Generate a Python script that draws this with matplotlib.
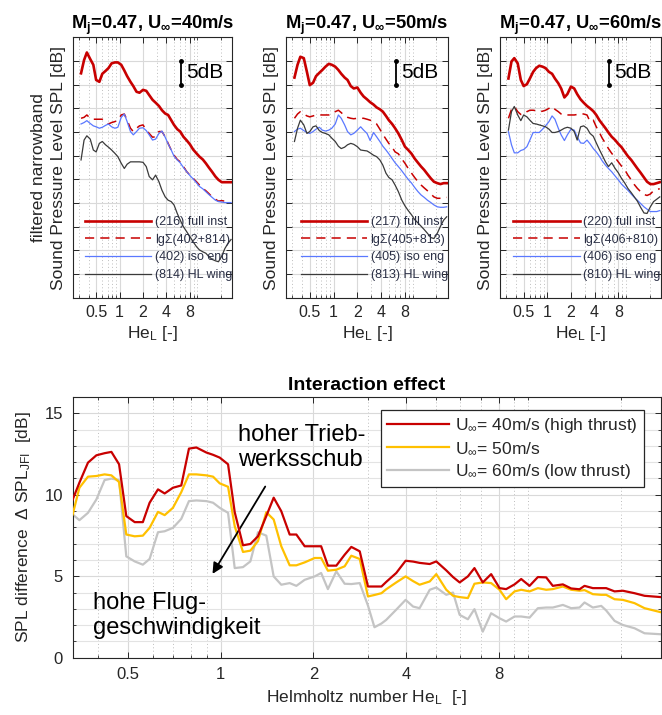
import numpy as np
import matplotlib
matplotlib.use('Agg')
import matplotlib.pyplot as plt
from matplotlib.ticker import FixedLocator, FixedFormatter, NullFormatter
from matplotlib.transforms import blended_transform_factory

plt.rcParams['font.family'] = ['Liberation Sans', 'DejaVu Sans']
plt.rcParams['mathtext.fontset'] = 'custom'
plt.rcParams['mathtext.rm'] = 'Liberation Sans'
plt.rcParams['mathtext.it'] = 'Liberation Sans:italic'
plt.rcParams['mathtext.bf'] = 'Liberation Sans:bold'

# ---------------- data: top panels (filtered narrowband SPL, dB, arbitrary offset) ----------------
he_top = [0.32, 0.35, 0.38, 0.42, 0.46, 0.5, 0.55, 0.6, 0.66, 0.72, 0.79, 0.87, 0.95, 1.05, 1.15,
          1.25, 1.38, 1.5, 1.65, 1.8, 2.0, 2.2, 2.4, 2.65, 2.9, 3.2, 3.5, 3.85, 4.2, 4.6,
          5.0, 5.5, 6.0, 6.6, 7.3, 8.0, 8.8, 9.7, 10.6, 11.7, 12.8, 14.0, 15.4, 17.0, 18.6,
          20.5, 22.5, 24.7, 27.0]

spl40_full = [47.4, 50.2, 51.8, 50.4, 49.2, 46.0, 45.6, 47.3, 47.9, 48.5, 49.5, 49.7, 49.7, 49.2, 48.0,
              46.8, 45.6, 44.7, 43.5, 43.3, 43.9, 43.7, 42.8, 41.8, 41.2, 40.5, 39.6, 38.9, 38.6, 37.5,
              36.5, 35.6, 35.1, 34.0, 33.2, 32.4, 31.3, 30.5, 29.8, 29.2, 28.4, 27.5, 26.6, 25.6, 24.9,
              24.4, 24.4, 24.4, 24.4]
spl40_sum = [37.9, 38.1, 38.6, 37.9, 37.7, 37.7, 37.7, 37.7, 37.2, 36.7, 37.0, 37.2, 37.5, 38.6, 38.8,
             37.5, 35.8, 35.1, 35.8, 36.3, 36.5, 35.4, 34.7, 33.9, 34.0, 35.1, 35.1, 34.0, 32.6, 31.2,
             30.1, 29.2, 28.7, 27.7, 26.6, 25.9, 25.2, 24.5, 23.8, 23.1, 22.6, 22.0, 21.3, 20.8, 20.4,
             20.5, 20.4, 20.4, np.nan]
spl40_iso = [36.7, 37.0, 37.4, 36.8, 36.3, 36.1, 35.8, 36.0, 36.4, 36.7, 36.1, 35.8, 36.0, 38.1, 38.8,
             37.2, 35.1, 34.4, 35.1, 35.8, 35.9, 35.3, 34.4, 33.3, 33.5, 34.7, 35.2, 33.9, 32.5, 31.2,
             29.9, 29.1, 28.5, 27.5, 26.6, 25.8, 25.1, 24.3, 23.5, 23.0, 22.4, 21.8, 21.2, 20.6, 20.3,
             20.2, 20.1, 20.1, 20.1]
spl40_wing = [29.1, 33.3, 34.2, 33.5, 31.2, 30.8, 32.6, 33.0, 32.3, 31.8, 31.2, 30.5, 29.8, 28.4, 27.3,
              28.2, 28.7, 28.7, 28.7, 28.7, 28.6, 27.7, 25.6, 24.9, 25.9, 24.5, 22.7, 21.3, 20.6, 20.3,
              19.6, 17.8, 16.4, 15.0, 13.9, 12.9, 11.8, 10.8, 10.1, 9.7, 9.4, 8.7, 8.1, 7.8, 7.6,
              8.8, 10.4, 11.5, 12.3]

spl50_full = [46.5, 49.2, 50.9, 50.6, 47.7, 44.9, 45.4, 46.8, 47.5, 48.1, 48.8, 49.4, 49.2, 48.8, 48.1,
              47.3, 46.5, 46.0, 44.7, 44.2, 44.4, 43.3, 42.5, 41.9, 41.3, 40.8, 40.2, 39.8, 39.3, 38.4,
              37.5, 36.7, 35.8, 34.7, 33.3, 31.9, 31.2, 30.4, 29.4, 28.5, 27.7, 27.0, 26.1, 25.2, 24.5,
              24.2, 24.0, 24.2, 24.2]
spl50_sum = [37.9, 38.8, 39.3, 38.8, 38.4, 38.2, 38.4, 38.6, 38.6, 38.6, 38.6, 38.6, 38.8, 39.3, 39.6,
             39.1, 38.4, 38.1, 37.9, 37.8, 37.9, 37.9, 37.9, 37.7, 37.5, 37.2, 36.7, 35.6, 34.5, 33.5,
             32.6, 31.8, 30.8, 30.4, 29.3, 28.4, 27.3, 26.3, 25.4, 24.5, 23.8, 23.2, 22.6, 21.9, 21.3,
             21.0, 21.0, 21.0, 21.2]
spl50_iso = [35.1, 35.6, 35.8, 35.3, 34.9, 34.7, 35.1, 35.6, 36.0, 35.4, 35.2, 35.4, 35.8, 36.7, 38.6,
             37.9, 36.5, 35.1, 34.4, 34.7, 35.4, 36.1, 35.4, 34.7, 33.2, 34.9, 34.0, 33.0, 32.0, 31.2,
             30.4, 29.4, 28.5, 27.7, 26.8, 25.9, 25.0, 24.2, 23.3, 22.4, 21.7, 21.2, 20.6, 20.1, 19.6,
             19.2, 19.1, 19.1, 19.2]
spl50_wing = [33.0, 35.8, 37.5, 36.5, 34.7, 35.1, 36.1, 36.3, 35.3, 34.9, 34.7, 34.4, 33.7, 33.0, 32.0,
              31.5, 31.8, 32.3, 32.6, 32.4, 31.9, 31.2, 31.1, 31.0, 30.6, 30.1, 29.8, 29.1, 28.0, 26.3,
              25.4, 24.9, 23.8, 22.4, 20.6, 19.4, 18.4, 17.5, 16.5, 15.8, 15.1, 14.4, 13.6, 12.7, 12.5,
              13.6, 15.1, 16.4, 17.1]

spl60_full = [46.3, 49.9, 50.6, 49.5, 46.0, 44.7, 45.1, 46.3, 47.7, 48.5, 49.0, 48.8, 48.5, 47.7, 47.3,
              46.3, 45.3, 44.2, 42.3, 43.0, 44.6, 44.2, 43.0, 41.9, 41.2, 40.5, 40.0, 39.4, 38.6, 37.5,
              36.7, 35.8, 34.9, 34.0, 33.3, 32.5, 31.8, 30.8, 29.9, 29.1, 28.2, 27.3, 26.4, 25.4, 24.5,
              24.0, 24.0, 24.2, 24.4]
spl60_sum = [37.9, 39.8, 40.4, 39.3, 38.7, 38.7, 39.3, 39.6, 39.6, 39.5, 39.3, 39.4, 39.6, 40.0, 40.4,
             39.8, 39.3, 38.8, 38.5, 38.6, 38.6, 38.6, 38.7, 38.9, 38.8, 38.6, 37.2, 37.5, 36.1, 34.9,
             33.7, 32.6, 31.5, 30.5, 29.6, 28.7, 27.8, 27.0, 25.9, 24.9, 23.9, 23.1, 22.4, 21.8, 21.6,
             21.9, 22.6, 22.9, 23.0]
spl60_iso = [35.1, 32.3, 30.6, 30.6, 31.1, 31.3, 31.9, 33.3, 34.9, 34.9, 34.9, 35.6, 36.3, 37.2, 38.4,
             37.7, 35.8, 34.4, 33.2, 34.4, 35.6, 35.4, 34.0, 32.7, 32.6, 33.3, 32.5, 31.5, 30.8, 29.9,
             28.9, 28.0, 27.3, 26.6, 25.7, 24.9, 24.0, 23.3, 22.7, 21.9, 21.2, 20.6, 19.9, 19.2, 18.7,
             18.2, 18.2, 18.2, 18.4]
spl60_wing = [35.4, 39.3, 40.4, 38.6, 37.4, 38.6, 38.2, 37.5, 36.8, 36.7, 36.5, 36.3, 36.1, 35.6, 34.9,
              34.9, 35.1, 35.4, 35.8, 36.0, 35.8, 35.1, 33.3, 36.1, 36.3, 35.8, 34.7, 34.1, 32.7, 31.3,
              30.1, 28.7, 27.7, 28.5, 27.3, 26.4, 25.2, 24.2, 23.1, 22.2, 21.3, 20.4, 19.1, 17.9, 17.8,
              19.2, 20.3, 20.8, 21.3]

top_titles = [r'$\mathbf{M_j}$=0.47, $\mathbf{U_{\infty}}$=40m/s',
              r'$\mathbf{M_j}$=0.47, $\mathbf{U_{\infty}}$=50m/s',
              r'$\mathbf{M_j}$=0.47, $\mathbf{U_{\infty}}$=60m/s']
top_labels = [['(216) full inst', 'lgΣ(402+814)', '(402) iso eng', '(814) HL wing'],
              ['(217) full inst', 'lgΣ(405+813)', '(405) iso eng', '(813) HL wing'],
              ['(220) full inst', 'lgΣ(406+810)', '(406) iso eng', '(810) HL wing']]

# ---------------- data: bottom panel (interaction effect) ----------------
he_bot = [0.33, 0.347, 0.37, 0.394, 0.419, 0.441, 0.467, 0.493, 0.525, 0.558, 0.587, 0.625, 0.657,
          0.699, 0.744, 0.788, 0.833, 0.898, 0.944, 0.992, 1.056, 1.11, 1.181, 1.248, 1.321, 1.406,
          1.486, 1.573, 1.675, 1.761, 1.874, 2.02, 2.12, 2.23, 2.375, 2.528, 2.657, 2.83, 3.01, 3.16,
          3.33, 3.45, 3.72, 3.99, 4.22, 4.43, 4.78, 5.02, 5.41, 5.69, 5.98, 6.36, 6.68, 7.11, 7.57,
          8.06, 8.47, 9.02, 9.48, 10.09, 10.74, 11.43, 12.01, 12.95, 13.78, 14.67, 15.23, 16.21,
          17.26, 17.91, 19.07, 20.29, 22.14, 23.87, 27.0]
dspl_40 = [9.71, 10.74, 11.97, 12.42, 12.55, 12.63, 11.87, 8.69, 8.32, 8.32, 9.51, 10.33, 10.08,
           10.43, 10.57, 12.83, 12.90, 12.59, 12.45, 12.28, 11.87, 8.93, 6.90, 6.98, 7.45, 8.69,
           9.82, 8.99, 7.56, 7.56, 6.84, 6.84, 6.84, 5.65, 5.65, 6.32, 6.80, 6.53, 4.37, 4.37,
           4.37, 4.65, 5.20, 5.95, 5.90, 5.82, 5.75, 5.91, 5.36, 4.95, 4.62, 4.99, 5.50, 4.62, 5.13,
           4.27, 4.21, 4.50, 4.83, 4.41, 4.95, 4.93, 4.41, 4.50, 4.25, 4.20, 4.41, 4.27,
           4.27, 4.27, 4.07, 4.11, 3.96, 3.80, 3.72]
dspl_50 = [8.79, 10.43, 11.11, 11.15, 11.25, 11.19, 10.78, 7.56, 7.45, 7.49, 7.97, 8.95, 8.75,
           9.20, 10.16, 11.25, 11.25, 11.19, 11.11, 10.70, 10.49, 8.07, 6.49, 6.57, 7.15, 8.93,
           8.48, 6.84, 5.67, 5.67, 5.85, 6.12, 6.12, 5.34, 5.40, 5.61, 6.26, 6.06, 3.76, 3.85,
           3.96, 4.20, 4.62, 4.99, 4.70, 4.48, 4.68, 5.13, 4.17, 3.80, 3.72, 3.66, 4.54, 4.62, 4.58,
           4.17, 3.59, 4.07, 4.17, 4.07, 4.27, 4.17, 4.21, 4.37, 4.17, 4.11, 4.15, 3.90,
           3.86, 3.86, 3.59, 3.55, 3.35, 3.04, 2.79]
dspl_60 = [8.79, 8.44, 8.89, 9.71, 10.90, 10.99, 10.90, 6.22, 5.91, 5.71, 6.06, 7.70, 7.76,
           7.97, 8.52, 9.61, 9.65, 9.61, 9.51, 9.20, 8.89, 5.50, 5.56, 5.91, 7.70, 7.49,
           4.99, 4.48, 4.58, 4.41, 4.78, 4.99, 5.20, 4.21, 5.30, 4.54, 4.52, 4.58, 3.20, 1.87,
           2.10, 2.32, 2.95, 3.55, 3.14, 3.04, 4.17, 4.31, 3.86, 4.00, 2.63, 2.36, 2.98, 1.60, 2.73,
           2.42, 2.22, 2.53, 2.53, 2.46, 3.04, 3.08, 3.08, 3.24, 3.04, 3.08, 3.39, 3.08,
           3.18, 2.90, 2.26, 2.01, 1.81, 1.50, 1.44]
bot_labels = [r'U$_{\infty}$= 40m/s (high thrust)', r'U$_{\infty}$= 50m/s', r'U$_{\infty}$= 60m/s (low thrust)']

# ---------------- styling ----------------
DARK = '#262626'
RED = '#c80000'
BLUE = '#5a78ff'
BLACK = '#3a3a3a'
GOLD = '#ffc000'
GREY = '#c4c4c4'
XT_MAJ = [0.5, 1, 2, 4, 8]
XT_LAB = ['0.5', '1', '2', '4', '8']
XT_MIN = [0.3, 0.4, 0.6, 0.7, 0.8, 0.9, 3, 5, 6, 7, 9, 10, 20]


def style_axis(ax, xlim):
    ax.set_xscale('log')
    ax.set_xlim(*xlim)
    ax.xaxis.set_major_locator(FixedLocator(XT_MAJ))
    ax.xaxis.set_major_formatter(FixedFormatter(XT_LAB))
    ax.xaxis.set_minor_locator(FixedLocator(XT_MIN))
    ax.xaxis.set_minor_formatter(NullFormatter())
    ax.set_axisbelow(True)
    ax.grid(which='major', axis='both', color='#d9d9d9', lw=0.8, ls='-')
    ax.grid(which='minor', axis='x', color='#bdbdbd', lw=0.7, ls=(0, (1, 2.5)))
    ax.tick_params(which='both', direction='in', top=True, right=True, colors=DARK)
    ax.tick_params(which='major', length=4, width=0.7)
    ax.tick_params(which='minor', length=2, width=0.6)
    for s in ax.spines.values():
        s.set_color(DARK)
        s.set_linewidth(0.8)


fig = plt.figure(figsize=(6.62, 7.15), dpi=100)

top_sets = [(spl40_full, spl40_sum, spl40_iso, spl40_wing),
            (spl50_full, spl50_sum, spl50_iso, spl50_wing),
            (spl60_full, spl60_sum, spl60_iso, spl60_wing)]
top_lefts = [0.1098, 0.432, 0.7553]
top_widths = [0.2411, 0.2447, 0.2432]

for i in range(3):
    ax = fig.add_axes([top_lefts[i], 0.5836, top_widths[i], 0.3642])
    style_axis(ax, (0.25, 28))
    ax.set_ylim(0, 55)
    ax.set_yticks(np.arange(0, 56, 5))
    ax.tick_params(axis='y', labelleft=False)
    ax.tick_params(axis='x', labelsize=11.5, pad=5)
    full, ssum, iso, wing = top_sets[i]
    l1, = ax.plot(he_top, full, color=RED, lw=1.9, label=top_labels[i][0])
    l2, = ax.plot(he_top, ssum, color=RED, lw=1.1, ls=(0, (6, 4)), label=top_labels[i][1])
    l3, = ax.plot(he_top, iso, color=BLUE, lw=0.9, label=top_labels[i][2])
    l4, = ax.plot(he_top, wing, color=BLACK, lw=0.9, label=top_labels[i][3])
    ax.set_title(top_titles[i], fontsize=13.2, fontweight='bold', pad=6)
    ax.set_xlabel(r'He$_\mathregular{L}$ [-]', fontsize=12.5, color=DARK, labelpad=3)
    if i == 0:
        ax.set_ylabel('filtered narrowband\nSound Pressure Level SPL [dB]', fontsize=12.5,
                      color=DARK, labelpad=5, linespacing=1.4)
    else:
        ax.set_ylabel('Sound Pressure Level SPL [dB]', fontsize=12.5, color=DARK, labelpad=5)
    leg = ax.legend(handles=[l1, l2, l3, l4], loc='lower right', bbox_to_anchor=(1.03, 0.045),
                    frameon=False, borderaxespad=0, handlelength=5.3, handletextpad=0.3,
                    labelspacing=0.45, prop={'family': ['Liberation Sans Narrow', 'Liberation Sans'],
                                             'size': 9})
    for t in leg.get_texts():
        t.set_color('#2a2f45')
    tr = blended_transform_factory(ax.transAxes, ax.transData)
    ax.plot([0.68, 0.68], [45, 50], color='k', lw=1.3, marker='o', ms=2.5, transform=tr)
    ax.text(0.71, 47.5, '5dB', transform=tr, fontsize=15, va='center', ha='left', color='k')

# ---------------- bottom panel ----------------
axb = fig.add_axes([0.1098, 0.0801, 0.8887, 0.3647])
style_axis(axb, (0.33, 27))
axb.set_ylim(0, 16)
axb.set_yticks([0, 5, 10, 15])
axb.yaxis.set_minor_locator(FixedLocator([v for v in range(1, 17) if v % 5 != 0]))
axb.grid(which='minor', axis='y', color='#e3e3e3', lw=0.8, ls='-')
axb.tick_params(axis='both', which='major', labelsize=12, pad=7)
axb.plot(he_bot, dspl_40, color=RED, lw=1.6, label=bot_labels[0], zorder=4)
axb.plot(he_bot, dspl_50, color=GOLD, lw=1.6, label=bot_labels[1], zorder=3)
axb.plot(he_bot, dspl_60, color=GREY, lw=1.6, label=bot_labels[2], zorder=2)
axb.set_title('Interaction effect', fontsize=14, fontweight='bold', pad=5)
axb.set_xlabel(r'Helmholtz number He$_\mathregular{L}$  [-]', fontsize=12.5, color=DARK, labelpad=4)
axb.set_ylabel(r'SPL difference  Δ SPL$_\mathregular{JFI}$  [dB]', fontsize=12.5, color=DARK, labelpad=8)
lg = axb.legend(loc='upper right', bbox_to_anchor=(0.971, 0.950), borderaxespad=0,
                fancybox=False, edgecolor=DARK, framealpha=1, fontsize=12.5,
                handlelength=3.6, handletextpad=0.35, labelspacing=0.3, borderpad=0.35)
lg.get_frame().set_linewidth(0.9)
for t in lg.get_texts():
    t.set_color(DARK)

axb.text(1.14, 12.9, 'hoher Trieb-\nwerksschub', fontsize=17, ha='left', va='center',
         color='k', linespacing=1.2)
axb.text(0.383, 2.6, 'hohe Flug-\ngeschwindigkeit', fontsize=17, ha='left', va='center',
         color='k', linespacing=1.2)
axb.annotate('', xy=(0.93, 5.0), xytext=(1.41, 10.65),
             arrowprops=dict(arrowstyle='-|>', color='k', lw=1.3, mutation_scale=16))

fig.savefig('out.png', dpi=100)
